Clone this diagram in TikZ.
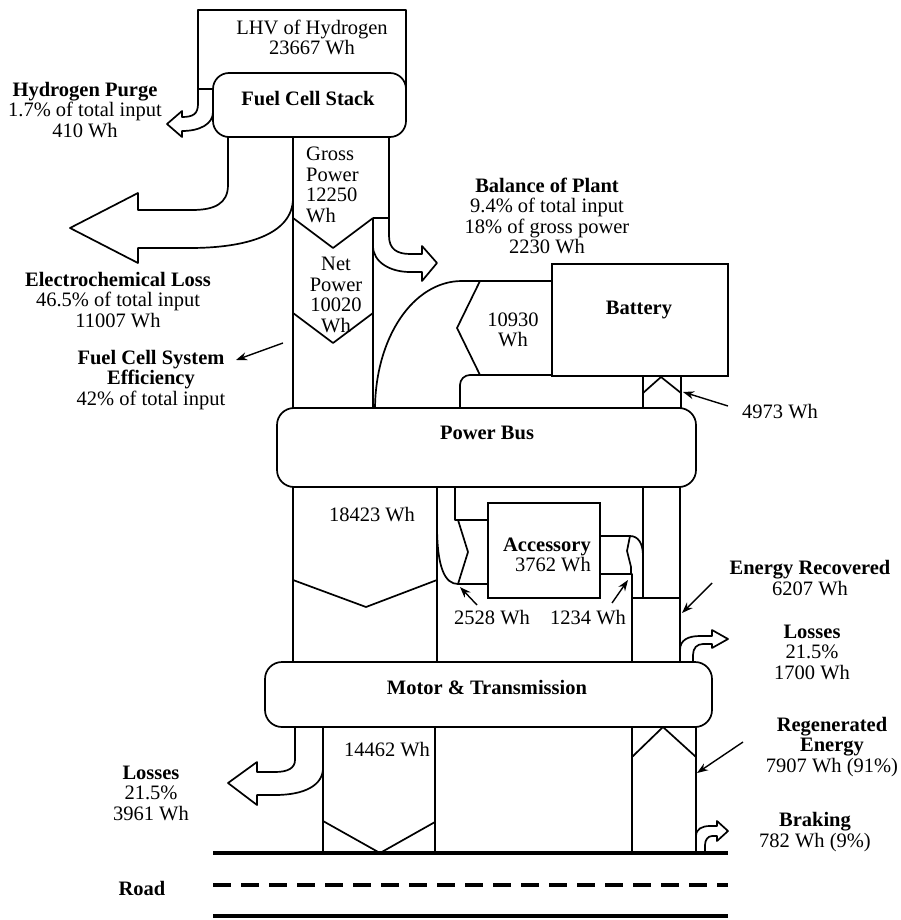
\documentclass[tikz,border=0pt]{standalone}
\usepackage{fontspec}
\setmainfont{Liberation Serif}
\usetikzlibrary{arrows.meta}
\begin{document}
\begin{tikzpicture}[x=1pt,y=-1pt,
 ln/.style={draw, line width=1.7pt, line join=round},
 rbox/.style={draw, line width=1.7pt, rounded corners=16pt, fill=white, inner sep=0pt},
 sbox/.style={draw, line width=1.7pt, fill=white, inner sep=0pt},
 txt/.style={font=\fontsize{20.5}{20.5}\selectfont, align=center, inner sep=0pt},
 btxt/.style={font=\fontsize{20.5}{20.5}\selectfont\bfseries, align=center, inner sep=0pt},
 ann/.style={draw, line width=1.4pt, -{Stealth[length=11pt,width=8pt]}},
 roadln/.style={draw, line width=3.5pt}]
\useasboundingbox (0,0) rectangle (901,920);
\fill[white] (0,0) rectangle (901,920);

% ---------- flows ----------
% LHV input
\draw[ln] (198,89) -- (198,10) -- (406,10) -- (406,90);
% hydrogen purge arrow
\draw[ln] (198,89) -- (213,89);
\draw[ln] (198,89) -- (198,104) .. controls (198,114) and (193,117) .. (182,117)
  -- (182,111) -- (167,124) -- (182,137) -- (182,131)
  .. controls (200,131) and (213,124) .. (213,112);
% electrochemical loss arrow
\draw[ln] (228,130) -- (228,185) .. controls (228,204) and (214,210) .. (192,210)
  -- (138,210) -- (138,193) -- (70,228) -- (138,263) -- (138,248) -- (190,248)
  .. controls (245,248) and (293,235) .. (293,198);
% gross / net power column
\draw[ln] (293,130) -- (293,410);
\draw[ln] (373,218) -- (389,218);
\draw[ln] (373,218) -- (373,410);
\draw[ln] (293,218) -- (333,248) -- (373,218);
\draw[ln] (293,313) -- (333,343) -- (373,313);
% balance of plant arrow
\draw[ln] (389,130) -- (389,236) .. controls (389,249) and (397,254) .. (410,254)
  -- (422,254) -- (422,246) -- (437,263) -- (422,281) -- (422,272) -- (410,272)
  .. controls (390,272) and (373,262) .. (373,246);
% battery charging (10930 Wh)
\draw[ln] (375,410) .. controls (375,338) and (413,281) .. (462,281);
\draw[draw, line width=2.6pt] (462,281) -- (553,281);
\draw[ln] (480,281) -- (457,328) -- (480,375);
\draw[ln, rounded corners=10pt] (460,410) -- (460,375) -- (553,375);
% battery discharge (4973 Wh)
\draw[ln] (643,376) -- (643,410);
\draw[ln] (681,376) -- (681,410);
\draw[ln] (643,393) -- (661,377) -- (681,393);
% below the power bus: drive column
\draw[ln] (293,485) -- (293,664);
\draw[ln] (437,485) -- (437,664);
\draw[ln] (293,580) -- (366,607) -- (437,580);
% accessory input (2528 Wh)
\draw[ln] (455,485) -- (455,520) -- (489,520);
\draw[ln] (458,520) -- (468,552) -- (458,584) -- (489,584);
\draw[ln] (437,525) .. controls (437,568) and (445,584) .. (458,584);
% accessory from recovered (1234 Wh)
\draw[ln] (599,536) -- (630,536) -- (627,551) -- (631,567) -- (631,574);
\draw[ln] (599,574) -- (632,574) -- (632,664);
\draw[ln] (630,536) .. controls (638,536) and (643,543) .. (643,556);
\draw[ln] (643,485) -- (643,598);
\draw[ln] (632,598) -- (680,598);
\draw[ln] (680,485) -- (680,664);
% losses 1700 Wh arrow
\draw[ln] (680,650) .. controls (680,640) and (688,636) .. (700,636) -- (712,636)
  -- (712,630) -- (728,639) -- (712,648) -- (712,644) -- (703,644)
  .. controls (697,644) and (693,648) .. (693,655) -- (693,664);
% losses 3961 Wh arrow
\draw[ln] (295,725) -- (295,760) .. controls (295,768) and (288,772) .. (275,772)
  -- (257,772) -- (257,762) -- (228,783) -- (257,805) -- (257,795) -- (275,795)
  .. controls (305,795) and (323,785) .. (323,768);
% traction column 14462 Wh
\draw[ln] (323,725) -- (323,853);
\draw[ln] (435,725) -- (435,853);
\draw[ln] (323,821) -- (380,853) -- (435,822);
% regeneration column
\draw[ln] (632,725) -- (632,853);
\draw[ln] (696,725) -- (696,853);
\draw[ln] (632,757) -- (663,727) -- (696,757);
% braking arrow
\draw[ln] (696,836) .. controls (696,829) and (702,826) .. (710,826) -- (717,826)
  -- (717,821) -- (728,831) -- (717,841) -- (717,836) -- (712,836)
  .. controls (708,836) and (705,840) .. (705,845) -- (705,853);

% ---------- boxes ----------
\node[rbox, minimum width=193pt, minimum height=64pt] (stack) at (309.5,105) {};
\node[btxt] at (308,99) {Fuel Cell Stack};
\node[sbox, minimum width=176pt, minimum height=112pt] (battery) at (640,320) {};
\node[btxt] at (639,310) {Battery};
\node[rbox, rounded corners=17pt, minimum width=419pt, minimum height=79pt] (bus) at (486.5,447.5) {};
\node[btxt] at (487,433) {Power Bus};
\node[sbox, minimum width=112pt, minimum height=95pt] (acc) at (544,550.5) {};
\node[txt, align=right, anchor=east] at (591,555) {\textbf{Accessory}\\3762 Wh};
\node[rbox, rounded corners=17pt, minimum width=447pt, minimum height=65pt] (motor) at (488.5,694.5) {};
\node[btxt] at (487,687) {Motor \& Transmission};

% ---------- road ----------
\draw[roadln] (213,853) -- (728,853);
\draw[roadln, dash pattern=on 18pt off 10pt] (213,885) -- (728,885);
\draw[roadln] (213,916) -- (728,916);
\node[btxt] (road) at (142,888) {Road};

% ---------- labels ----------
\node[txt] (lhv) at (312,37.5) {LHV of Hydrogen\\23667 Wh};
\node[txt] (purge) at (85,110) {\textbf{Hydrogen Purge}\\1.7\% of total input\\410 Wh};
\node[txt] (echem) at (118,300) {\textbf{Electrochemical Loss}\\46.5\% of total input\\11007 Wh};
\node[txt] (fcse) at (151,380) {\textbf{Fuel Cell System}\\\textbf{Efficiency}\\42\% of total input};
\node[txt, align=left, anchor=west] (gross) at (306,185) {Gross\\Power\\12250\\Wh};
\node[txt] (net) at (336,295) {Net\\Power\\10020\\Wh};
\node[txt] (bop) at (547,216) {\textbf{Balance of Plant}\\9.4\% of total input\\18\% of gross power\\2230 Wh};
\node[txt] (chg) at (513,330) {10930\\Wh};
\node[txt] (dis) at (780,412) {4973 Wh};
\node[txt] (drive) at (372,515) {18423 Wh};
\node[txt] (a1) at (492,618) {2528 Wh};
\node[txt] (a2) at (588,618) {1234 Wh};
\node[txt] (rec) at (810,578) {\textbf{Energy Recovered}\\6207 Wh};
\node[txt] (loss1) at (812,652) {\textbf{Losses}\\21.5\%\\1700 Wh};
\node[txt] (trac) at (387,750) {14462 Wh};
\node[txt] (loss2) at (151,793) {\textbf{Losses}\\21.5\%\\3961 Wh};
\node[txt] (regen) at (832,747) {\textbf{Regenerated}\\\textbf{Energy}\\7907 Wh (91\%)};
\node[txt] (brake) at (815,832) {\textbf{Braking}\\782 Wh (9\%)};

% ---------- annotation arrows ----------
\coordinate (fcseT) at (236,360);
\coordinate (disT) at (683,392);
\coordinate (a1T) at (460,587);
\coordinate (a2T) at (628,580);
\coordinate (recT) at (682,613);
\coordinate (regT) at (697,773);
\draw[ann] (283,343) -- (fcseT);
\draw[ann] (728,406) -- (disT);
\draw[ann] (477,605) -- (a1T);
\draw[ann] (612,603) -- (a2T);
\draw[ann] (712,583) -- (recT);
\draw[ann] (743,742) -- (regT);
\end{tikzpicture}
\end{document}
